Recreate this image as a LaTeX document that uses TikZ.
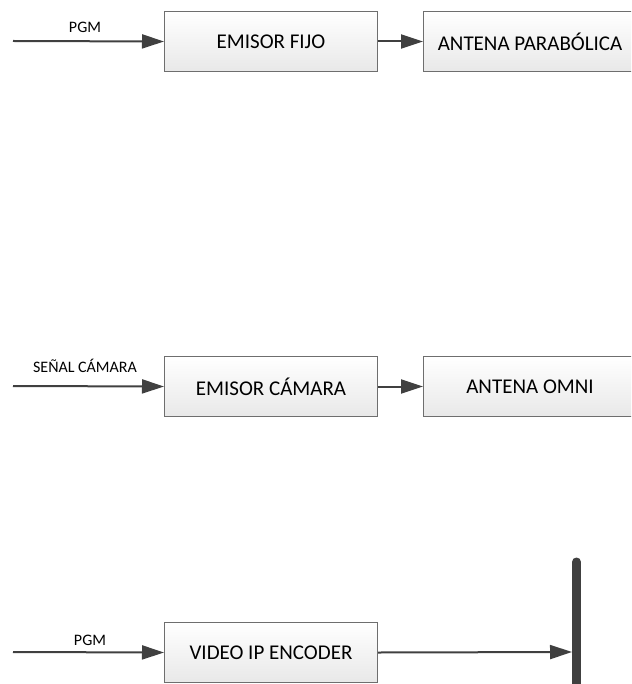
\documentclass[tikz,border=0pt]{standalone}
\usepackage{fontspec}
\setmainfont{Carlito}
\usetikzlibrary{arrows.meta}
\definecolor{linec}{HTML}{404040}
\definecolor{boxb}{HTML}{6E6E6E}
\begin{document}
\begin{tikzpicture}[x=1pt,y=-1pt,
  blk/.style={draw=boxb, line width=1pt, top color=white, bottom color=black!9,
    minimum width=213pt, minimum height=60pt, inner sep=0pt,
    font=\fontsize{21}{24}\selectfont, anchor=north west},
  conn/.style={draw=linec, line width=2pt, -{Triangle[length=22pt,width=14pt]}},
  lbl/.style={font=\fontsize{16}{18}\selectfont, text=black, anchor=base, inner sep=0pt},
  busbar/.style={draw=linec, line width=9pt, line cap=round}]
\useasboundingbox (0,0) rectangle (631,684);
\clip (0,0) rectangle (631,684);
% row 1
\node[blk] (ef) at (164,11) {EMISOR FIJO};
\node[blk] (ap) at (423,11) {ANTENA PARABÓLICA};
\coordinate (in1) at (13,41);
\draw[conn] (in1) -- (ef.west);
\draw[conn] (ef.east) -- (ap.west);
\node[lbl] (l1) at (85,33) {PGM};
% row 2
\node[blk] (ec) at (164,356) {EMISOR CÁMARA};
\node[blk] (ao) at (423,356) {ANTENA OMNI};
\coordinate (in2) at (13,386);
\draw[conn] (in2) -- (ec.west);
\draw[conn] (ec.east) -- (ao.west);
\node[lbl] (l2) at (85,372) {SEÑAL CÁMARA};
% row 3
\node[blk] (enc) at (164,622) {VIDEO IP ENCODER};
\coordinate (in3) at (13,652);
\coordinate (bartop) at (576.5,562);
\coordinate (barbot) at (576.5,700);
\coordinate (barin) at (572,652);
\draw[busbar] (bartop) -- (barbot);
\draw[conn] (in3) -- (enc.west);
\draw[conn] (enc.east) -- (barin);
\node[lbl] (l3) at (90,645) {PGM};
\end{tikzpicture}
\end{document}
